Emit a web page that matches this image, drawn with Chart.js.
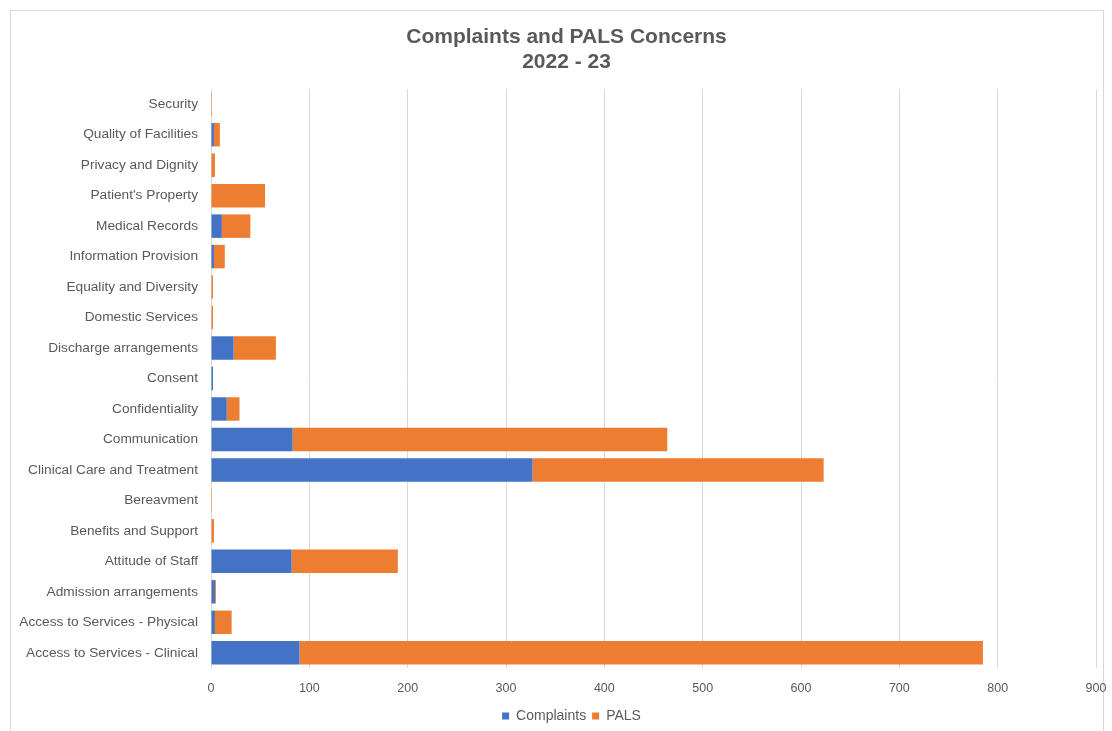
<!DOCTYPE html>
<html>
<head>
<meta charset="utf-8">
<script src="https://cdn.jsdelivr.net/npm/chart.js@4/dist/chart.umd.min.js"></script>
<style>
  html, body { margin: 0; padding: 0; background: #fff; }
  #frame {
    position: absolute; left: 10px; top: 10px;
    width: 1094px; height: 730px;
    border: 1px solid #d9d9d9; box-sizing: border-box;
  }
  #wrap { position: absolute; left: 0; top: 0; width: 1112px; height: 731px; }
</style>
</head>
<body>
<div id="frame"></div>
<div id="wrap"><canvas id="myChart" width="1112" height="731"></canvas></div>
<script>
const categories = [
    "Security",
    "Quality of Facilities",
    "Privacy and Dignity",
    "Patient's Property",
    "Medical Records",
    "Information Provision",
    "Equality and Diversity",
    "Domestic Services",
    "Discharge arrangements",
    "Consent",
    "Confidentiality",
    "Communication",
    "Clinical Care and Treatment",
    "Bereavment",
    "Benefits and Support",
    "Attitude of Staff",
    "Admission arrangements",
    "Access to Services - Physical",
    "Access to Services - Clinical"
];

const complaints = [0, 3, 0, 0, 11, 3, 0, 0, 23, 2, 16, 83, 327, 0, 0, 82, 4, 4, 90];
const pals       = [1, 6, 4, 55, 29, 11, 2, 2, 43, 0, 13, 381, 296, 1, 3, 108, 1, 17, 695];

const xTicks = [0, 100, 200, 300, 400, 500, 600, 700, 800, 900];

const grey = "#595959";
const font = "'Liberation Sans', Arial, sans-serif";

// title and legend sit a little right of the canvas middle
const titleShift = 37;
const legendShift = 47;

const shiftHeader = {
    id: "shiftHeader",
    afterLayout(chart) {
        if (chart.titleBlock) chart.titleBlock.left += titleShift;
        if (chart.legend) chart.legend.left += legendShift;
    },
};

window.onload = () => {
    const data = {
        labels: categories,
        datasets: [
            {
                label: "Complaints",
                data: complaints,
                backgroundColor: "#4472C4",
                borderWidth: 0,
                barPercentage: 1,
                categoryPercentage: 0.77,
            },
            {
                label: "PALS",
                data: pals,
                backgroundColor: "#ED7D31",
                borderWidth: 0,
                barPercentage: 1,
                categoryPercentage: 0.77,
            },
        ],
    };

    const config = {
        type: "bar",
        data: data,
        plugins: [shiftHeader],
        options: {
            indexAxis: "y",
            responsive: false,
            animation: false,
            layout: { padding: { left: 0, right: 16, top: 0, bottom: -2 } },
            plugins: {
                title: {
                    display: true,
                    text: ["Complaints and PALS Concerns", "2022 - 23"],
                    color: grey,
                    font: { family: font, size: 21, weight: "bold", lineHeight: "25px" },
                    padding: { top: 25, bottom: 14 },
                },
                legend: {
                    position: "bottom",
                    labels: {
                        color: grey,
                        font: { family: font, size: 14 },
                        boxWidth: 7,
                        boxHeight: 7,
                        padding: 6,
                    },
                },
                tooltip: { enabled: false },
            },
            scales: {
                x: {
                    stacked: true,
                    min: 0,
                    max: 900,
                    afterBuildTicks: (scale) => {
                        scale.ticks = xTicks.map((v) => ({ value: v }));
                    },
                    afterFit: (scale) => {
                        scale.height = 35;
                        scale.paddingLeft = 0;
                        scale.paddingRight = 0;
                    },
                    grid: { color: "#d9d9d9", lineWidth: 1, drawTicks: false },
                    border: { display: false },
                    ticks: {
                        color: grey,
                        font: { family: font, size: 12.5 },
                        padding: 13,
                    },
                },
                y: {
                    stacked: true,
                    grid: { display: false, drawTicks: false },
                    border: { display: false },
                    afterFit: (scale) => { scale.width = 211; },
                    ticks: {
                        color: grey,
                        font: { family: font, size: 13.7 },
                        padding: 13,
                        autoSkip: false,
                    },
                },
            },
        },
    };

    const myChart = new Chart(document.getElementById("myChart"), config);
};
</script>
</body>
</html>
